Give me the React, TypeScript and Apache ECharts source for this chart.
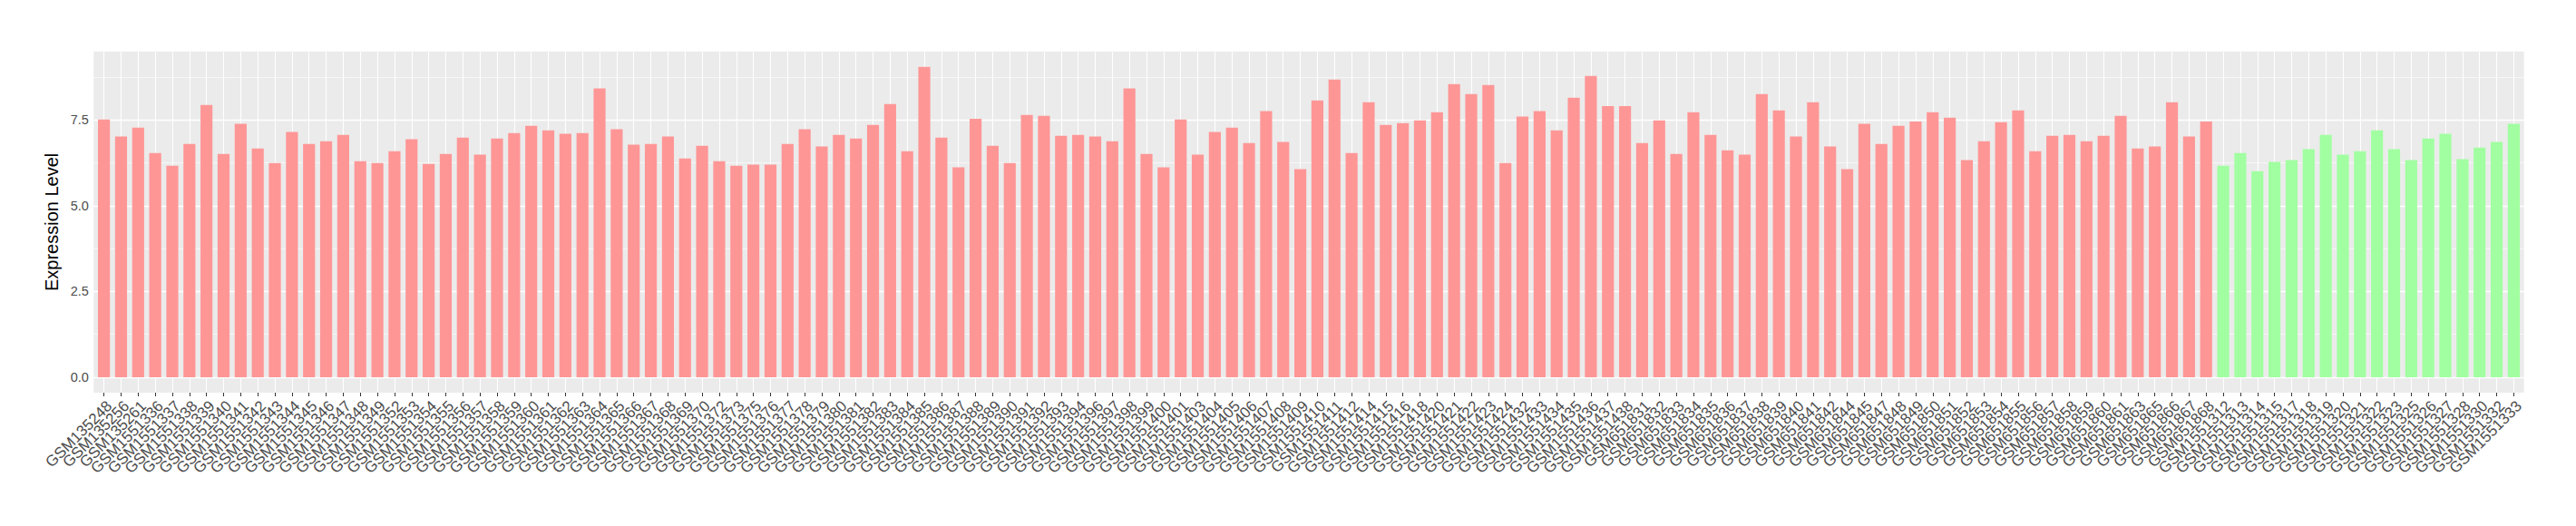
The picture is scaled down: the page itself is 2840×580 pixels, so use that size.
import React, { useEffect, useRef } from "react";
import * as echarts from "echarts";

const categories = [
  "GSM135248", "GSM135256", "GSM135261",
  "GSM1551336", "GSM1551337", "GSM1551338", "GSM1551339", "GSM1551340", "GSM1551341", "GSM1551342",
  "GSM1551343", "GSM1551344", "GSM1551345", "GSM1551346", "GSM1551347", "GSM1551348", "GSM1551349",
  "GSM1551352", "GSM1551353", "GSM1551354", "GSM1551355", "GSM1551356", "GSM1551357", "GSM1551358",
  "GSM1551359", "GSM1551360", "GSM1551361", "GSM1551362", "GSM1551363", "GSM1551364", "GSM1551365",
  "GSM1551366", "GSM1551367", "GSM1551368", "GSM1551369", "GSM1551370",
  "GSM1551372", "GSM1551373",
  "GSM1551375", "GSM1551376", "GSM1551377", "GSM1551378", "GSM1551379", "GSM1551380", "GSM1551381",
  "GSM1551382", "GSM1551383", "GSM1551384", "GSM1551385", "GSM1551386", "GSM1551387", "GSM1551388",
  "GSM1551389", "GSM1551390", "GSM1551391", "GSM1551392", "GSM1551393", "GSM1551394",
  "GSM1551396", "GSM1551397", "GSM1551398", "GSM1551399", "GSM1551400", "GSM1551401",
  "GSM1551403", "GSM1551404", "GSM1551405", "GSM1551406", "GSM1551407", "GSM1551408", "GSM1551409",
  "GSM1551410", "GSM1551411", "GSM1551412",
  "GSM1551414", "GSM1551415", "GSM1551416",
  "GSM1551418",
  "GSM1551420", "GSM1551421", "GSM1551422", "GSM1551423", "GSM1551424",
  "GSM1551432", "GSM1551433", "GSM1551434", "GSM1551435", "GSM1551436", "GSM1551437", "GSM1551438",
  "GSM651831", "GSM651832", "GSM651833", "GSM651834", "GSM651835", "GSM651836", "GSM651837",
  "GSM651838", "GSM651839", "GSM651840", "GSM651841", "GSM651842",
  "GSM651844", "GSM651845",
  "GSM651847", "GSM651848", "GSM651849", "GSM651850", "GSM651851", "GSM651852", "GSM651853",
  "GSM651854", "GSM651855", "GSM651856", "GSM651857", "GSM651858", "GSM651859", "GSM651860", "GSM651861",
  "GSM651863",
  "GSM651865", "GSM651866", "GSM651867", "GSM651868",
  "GSM1551312", "GSM1551313", "GSM1551314", "GSM1551315", "GSM1551317", "GSM1551318", "GSM1551319",
  "GSM1551320", "GSM1551321", "GSM1551322", "GSM1551323", "GSM1551325", "GSM1551326", "GSM1551327",
  "GSM1551328", "GSM1551330", "GSM1551332", "GSM1551333",
];

const values = [
  7.52, 7.02, 7.28,
  6.54, 6.17, 6.80, 7.94, 6.51, 7.39, 6.67, 6.25, 7.15, 6.80, 6.88, 7.07, 6.30, 6.25,
  6.59, 6.94, 6.22, 6.51, 6.99, 6.49, 6.96, 7.12, 7.33, 7.20, 7.10, 7.12, 8.42, 7.23, 6.78, 6.80, 7.02, 6.38, 6.75,
  6.30, 6.17,
  6.20, 6.20, 6.80, 7.23, 6.73, 7.07, 6.96, 7.36, 7.97, 6.59, 9.05, 6.99, 6.12, 7.54, 6.75, 6.25, 7.65, 7.62, 7.04, 7.07,
  7.02, 6.88, 8.42, 6.51, 6.12, 7.52,
  6.49, 7.15, 7.28, 6.83, 7.76, 6.86, 6.07, 8.07, 8.68, 6.54,
  8.02, 7.36, 7.41,
  7.49,
  7.73, 8.55, 8.26, 8.52, 6.25,
  7.60, 7.76, 7.20, 8.15, 8.79, 7.91, 7.91,
  6.83, 7.49, 6.51, 7.73, 7.07, 6.62, 6.49, 8.26, 7.78, 7.02, 8.02, 6.73,
  6.07, 7.39,
  6.80, 7.33, 7.46, 7.73, 7.57, 6.33, 6.88, 7.44, 7.78, 6.59, 7.04, 7.07, 6.88, 7.04, 7.62,
  6.67,
  6.73, 8.02, 7.02, 7.46,
  6.17, 6.54, 6.01, 6.28, 6.33, 6.65, 7.07, 6.49, 6.59, 7.20, 6.65, 6.33, 6.96, 7.10, 6.36, 6.70, 6.86, 7.39,
];

const greenSamples = [
  "GSM1551312", "GSM1551313", "GSM1551314", "GSM1551315", "GSM1551317", "GSM1551318", "GSM1551319",
  "GSM1551320", "GSM1551321", "GSM1551322", "GSM1551323", "GSM1551325", "GSM1551326", "GSM1551327",
  "GSM1551328", "GSM1551330", "GSM1551332", "GSM1551333",
];

const yTicks = [0, 2.5, 5, 7.5];
const yMinorTicks = [1.25, 3.75, 6.25, 8.75];

const RED = "#FF9696";
const GREEN = "#A1FFA1";
const FONT = "Liberation Sans, Arial, Helvetica, sans-serif";

// panel geometry (px)
const PANEL_LEFT = 103.3;
const PANEL_RIGHT = 57.3;
const PANEL_TOP = 56.7;
const PANEL_BOTTOM = 147;
const PANEL_WIDTH = 2840 - PANEL_LEFT - PANEL_RIGHT;

export default function App() {
  const ref = useRef<HTMLDivElement>(null);

  useEffect(() => {
    if (!ref.current) return;
    const chart = echarts.init(ref.current, null, { renderer: "svg" });
    const n = categories.length;
    const xIdx = categories.map((_, i) => i);
    const maxV = Math.max(...values);
    const pad = maxV * 0.05;
    // ggplot discrete expansion: 0.6 units each side; ECharts category bands give 0.5
    const unit = PANEL_WIDTH / (n - 1 + 1.2);
    const inset = unit * 0.1;

    const gridLines: any[] = [];
    xIdx.forEach((i) => gridLines.push({ xAxis: i, lineStyle: { width: 1.1 } }));
    yMinorTicks.forEach((v) => gridLines.push({ yAxis: v, lineStyle: { width: 0.6 } }));
    yTicks.forEach((v) => gridLines.push({ yAxis: v, lineStyle: { width: 1.3 } }));

    chart.setOption({
      animation: false,
      backgroundColor: "#ffffff",
      grid: [
        {
          left: PANEL_LEFT,
          right: PANEL_RIGHT,
          top: PANEL_TOP,
          bottom: PANEL_BOTTOM,
          show: true,
          backgroundColor: "#EBEBEB",
          borderWidth: 0,
        },
        {
          left: PANEL_LEFT + inset,
          right: PANEL_RIGHT + inset,
          top: PANEL_TOP,
          bottom: PANEL_BOTTOM,
          show: false,
        },
      ],
      xAxis: [
        {
          type: "value",
          gridIndex: 0,
          min: -0.6,
          max: n - 1 + 0.6,
          axisLine: { show: false },
          splitLine: { show: false },
          axisTick: { show: false },
          axisLabel: { show: false },
        },
        {
          type: "category",
          gridIndex: 1,
          data: categories,
          boundaryGap: true,
          axisLine: { show: false },
          splitLine: { show: false },
          axisTick: {
            show: true,
            alignWithLabel: true,
            interval: 0,
            length: 4,
            lineStyle: { color: "#333333", width: 1 },
          },
          axisLabel: {
            interval: 0,
            rotate: 45,
            align: "right",
            verticalAlign: "top",
            margin: 6,
            fontSize: 17,
            color: "#4D4D4D",
            fontFamily: FONT,
          },
        },
      ],
      yAxis: [
        {
          type: "value",
          gridIndex: 0,
          min: -pad,
          max: maxV + pad,
          axisLine: { show: false },
          splitLine: { show: false },
          axisTick: {
            show: true,
            customValues: yTicks,
            length: 4,
            lineStyle: { color: "#333333", width: 1 },
          },
          axisLabel: {
            customValues: yTicks,
            formatter: (v: number) => v.toFixed(1),
            margin: 5.5,
            fontSize: 14.5,
            color: "#4D4D4D",
            fontFamily: FONT,
            showMinLabel: true,
            showMaxLabel: true,
          },
          name: "Expression Level",
          nameLocation: "middle",
          nameRotate: 90,
          nameGap: 29,
          nameTextStyle: { fontSize: 20, color: "#000000", fontFamily: FONT },
        },
        {
          type: "value",
          gridIndex: 1,
          min: 0,
          max: 1,
          show: false,
        },
      ],
      series: [
        {
          type: "bar",
          xAxisIndex: 0,
          yAxisIndex: 0,
          z: 2,
          barWidth: unit * 0.7,
          data: values.map((v, i) => ({
            value: [i, v],
            itemStyle: { color: greenSamples.includes(categories[i]) ? GREEN : RED },
          })),
          markLine: {
            z: 1,
            silent: true,
            symbol: ["none", "none"],
            label: { show: false },
            emphasis: { disabled: true },
            lineStyle: { color: "#ffffff", type: "solid", width: 1 },
            data: gridLines,
          },
        },
      ],
    });

    return () => chart.dispose();
  }, []);

  return (
    <div
      ref={ref}
      style={{ position: "absolute", left: 0, top: 0, width: 2840, height: 580 }}
    />
  );
}
